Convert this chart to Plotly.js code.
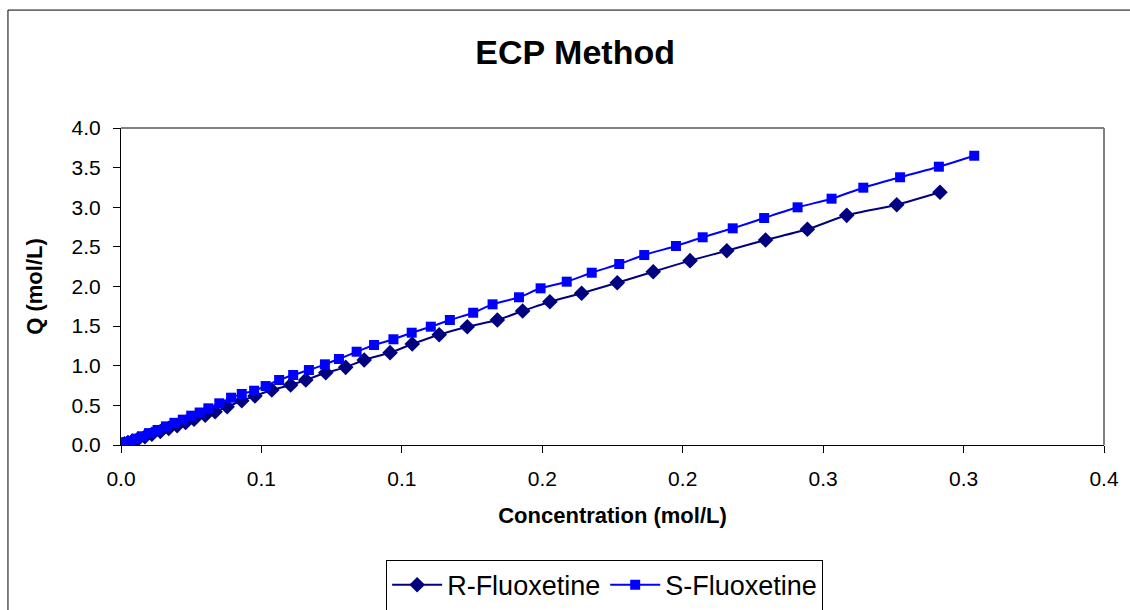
<!DOCTYPE html>
<html><head><meta charset="utf-8">
<script src="https://cdn.plot.ly/plotly-3.0.1.min.js"></script>
<style>html,body{margin:0;padding:0;background:#fff;}#chart{width:1130px;height:610px;}</style>
</head><body><div id="chart"></div>
<script>
const rConc = [0.0004,0.0012,0.0025,0.004,0.006,0.0085,0.011,0.014,0.017,0.020,0.023,0.026,0.030,0.0335,0.0378,0.0430,0.0477,0.0537,0.0604,0.0658,0.0729,0.0800,0.0866,0.0958,0.1037,0.1133,0.1233,0.1340,0.1430,0.1527,0.1640,0.1767,0.1895,0.2026,0.2157,0.2295,0.2444,0.2584,0.2762,0.2916];
const rQ = [0.005,0.015,0.03,0.05,0.075,0.105,0.135,0.17,0.21,0.245,0.285,0.325,0.375,0.420,0.483,0.559,0.618,0.694,0.757,0.820,0.912,0.980,1.073,1.165,1.274,1.392,1.493,1.577,1.691,1.808,1.914,2.048,2.187,2.326,2.452,2.587,2.722,2.898,3.032,3.189];
const sConc = [0.0003,0.001,0.002,0.0035,0.0055,0.0075,0.010,0.013,0.016,0.019,0.022,0.025,0.028,0.0311,0.0350,0.0392,0.0430,0.0474,0.0515,0.0563,0.0613,0.0669,0.0726,0.0776,0.0839,0.0901,0.0970,0.1035,0.1103,0.1171,0.1254,0.1323,0.1417,0.1494,0.1587,0.1676,0.1774,0.1863,0.1976,0.2071,0.2178,0.2290,0.2409,0.2530,0.2643,0.2774,0.2912,0.3038];
const sQ = [0.005,0.015,0.03,0.05,0.08,0.11,0.15,0.19,0.235,0.28,0.32,0.37,0.41,0.463,0.526,0.597,0.644,0.685,0.744,0.820,0.883,0.946,1.018,1.085,1.177,1.262,1.334,1.417,1.493,1.577,1.669,1.775,1.864,1.977,2.061,2.174,2.284,2.397,2.511,2.621,2.734,2.864,2.999,3.108,3.247,3.378,3.512,3.650];
const xTickVals = [0,0.05,0.1,0.15,0.2,0.25,0.3,0.35];
const xTickText = ['0.0','0.1','0.1','0.2','0.2','0.3','0.3','0.4'];
const yTickVals = [0,0.5,1,1.5,2,2.5,3,3.5,4];

const font = 'Liberation Sans, Arial, sans-serif';
const traces = [
  {x: rConc, y: rQ, name: 'R-Fluoxetine', type: 'scatter', mode: 'lines+markers',
   line: {color: '#000080', width: 2, shape: 'spline', smoothing: 0.6},
   marker: {symbol: 'diamond', size: 12, color: '#000080'}},
  {x: sConc, y: sQ, name: 'S-Fluoxetine', type: 'scatter', mode: 'lines+markers',
   line: {color: '#0000FF', width: 2, shape: 'spline', smoothing: 0.6},
   marker: {symbol: 'square', size: 10, color: '#0000FF'}}
];
const layout = {
  width: 1130, height: 610,
  margin: {l: 121, r: 26, t: 128, b: 165, autoexpand: false},
  paper_bgcolor: '#fff', plot_bgcolor: '#fff',
  font: {family: font, color: '#000', size: 21},
  title: {text: '<b>ECP Method</b>', font: {family: font, size: 34, color: '#000'}, x: 0.509, xanchor: 'center', xref: 'container', y: 0.915, yanchor: 'middle'},
  xaxis: {range: [0, 0.35], tickvals: xTickVals, ticktext: xTickText, showgrid: false, zeroline: false,
    showline: true, linecolor: '#000', linewidth: 1, ticks: 'outside', ticklen: 7, tickcolor: '#000',
    ticklabelstandoff: 8,
    tickfont: {family: font, size: 21}, mirror: false,
    title: {text: '<b>Concentration (mol/L)</b>', font: {family: font, size: 22}, standoff: 18}},
  yaxis: {range: [0, 4], tickvals: yTickVals, tickformat: '.1f', showgrid: false, zeroline: false,
    showline: true, linecolor: '#000', linewidth: 1, ticks: 'outside', ticklen: 7, tickcolor: '#000',
    ticklabelstandoff: 8,
    tickfont: {family: font, size: 21},
    title: {text: '<b>Q (mol/L)</b>', font: {family: font, size: 22}, standoff: 22}},
  showlegend: true,
  legend: {orientation: 'h', x: 0.492, xanchor: 'center', y: -0.362, yanchor: 'top',
    bordercolor: '#000', borderwidth: 1, bgcolor: '#fff', font: {family: font, size: 27},
    itemwidth: 50, tracegroupgap: 0},
  shapes: [
    {type: 'line', xref: 'paper', yref: 'paper', x0: 0, x1: 1, y0: 1, y1: 1, line: {color: '#808080', width: 2}},
    {type: 'line', xref: 'paper', yref: 'paper', x0: 1, x1: 1, y0: 0, y1: 1, line: {color: '#808080', width: 2}},
    {type: 'rect', xref: 'paper', yref: 'paper', x0: -0.115, x1: 1.1, y0: -0.6, y1: 1.372, line: {color: '#000', width: 1}, layer: 'below'}
  ]
};
Plotly.newPlot('chart', traces, layout, {displayModeBar: false, staticPlot: true});
</script>
</body></html>
